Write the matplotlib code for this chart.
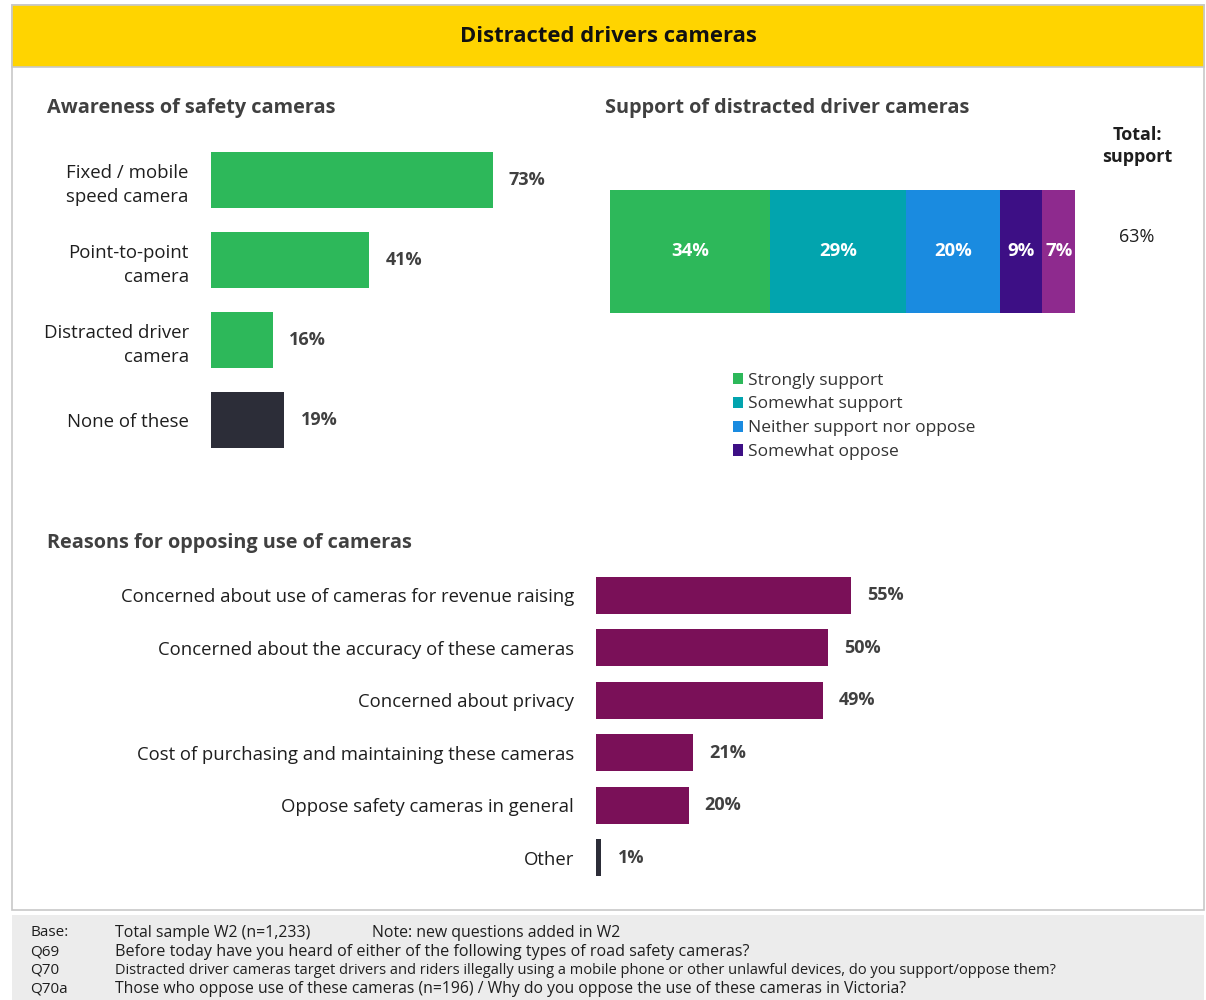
import matplotlib
matplotlib.use("Agg")
import matplotlib.pyplot as plt
from matplotlib.patches import Rectangle

plt.rcParams['font.family'] = ['Open Sans', 'DejaVu Sans']

W, H = 1206, 1000

# --- data ---
aware_labels = ["Fixed / mobile\nspeed camera", "Point-to-point\ncamera",
                "Distracted driver\ncamera", "None of these"]
aware_values = [73, 41, 16, 19]
aware_colors = ["#2db85a", "#2db85a", "#2db85a", "#2c2d38"]

support_labels = ["Strongly support", "Somewhat support", "Neither support nor oppose",
                  "Somewhat oppose", "Strongly oppose"]
support_values = [34, 29, 20, 9, 7]
support_colors = ["#2db85a", "#02a4ae", "#1a8be0", "#3d0f85", "#8e2a8e"]
support_total = 63

reason_labels = ["Concerned about use of cameras for revenue raising",
                 "Concerned about the accuracy of these cameras",
                 "Concerned about privacy",
                 "Cost of purchasing and maintaining these cameras",
                 "Oppose safety cameras in general",
                 "Other"]
reason_values = [55, 50, 49, 21, 20, 1]
reason_colors = ["#7a1058"] * 5 + ["#2c2d38"]

footer_rows = [
    ("Base:", "Total sample W2 (n=1,233)", 11.4),
    ("Q69", "Before today have you heard of either of the following types of road safety cameras?", 11.6),
    ("Q70", "Distracted driver cameras target drivers and riders illegally using a mobile phone or other unlawful devices, do you support/oppose them?", 10.5),
    ("Q70a", "Those who oppose use of these cameras (n=196) / Why do you oppose the use of these cameras in Victoria?", 11.3),
]

TXT = "#1e1e1e"
GREY = "#404040"


def rect(x0, y0, x1, y1):
    """pixel box (top-left origin) -> figure fraction [l, b, w, h]"""
    return [x0 / W, 1 - y1 / H, (x1 - x0) / W, (y1 - y0) / H]


def ftext(x, y, s, **kw):
    return fig.text(x / W, 1 - y / H, s, **kw)


def clean(ax):
    for sp in ax.spines.values():
        sp.set_visible(False)
    ax.tick_params(length=0)
    ax.set_facecolor("none")
    ax.set_zorder(2)


fig = plt.figure(figsize=(W / 100, H / 100), dpi=100)
fig.patch.set_facecolor("white")

# frame, header band and footer band (kept behind the axes)
fig.patches.append(Rectangle((12 / W, 1 - 910 / H), 1192 / W, 905 / H, transform=fig.transFigure,
                             facecolor="white", edgecolor="#c8c8c8", lw=1.2, zorder=-3))
fig.patches.append(Rectangle((12 / W, 1 - 67 / H), 1192 / W, 62 / H, transform=fig.transFigure,
                             facecolor="#ffd400", edgecolor="#c8c8c8", lw=1.2, zorder=-2))
fig.patches.append(Rectangle((12 / W, 0), 1192 / W, 85 / H, transform=fig.transFigure,
                             facecolor="#ececec", edgecolor="none", zorder=-3))

ftext(608, 37, "Distracted drivers cameras", ha="center", va="center",
      fontsize=15.8, fontweight="bold", color="#111111")

# --- awareness ---
ftext(47, 108, "Awareness of safety cameras", ha="left", va="center",
      fontsize=14.3, fontweight="bold", color=GREY)
ax1 = fig.add_axes(rect(211, 140, 597, 460))
ypos = list(range(len(aware_values)))
ax1.barh(ypos, aware_values, height=0.71, color=aware_colors)
ax1.set_xlim(0, 100)
ax1.set_ylim(3.5, -0.5)
ax1.set_xticks([])
ax1.set_yticks(ypos)
ax1.set_yticklabels(aware_labels, fontsize=13.4, color=TXT, linespacing=1.4)
ax1.tick_params(axis="y", pad=16)
clean(ax1)
for y, v in zip(ypos, aware_values):
    ax1.text(v + 4.2, y, f"{v}%", va="center", ha="left", fontsize=13,
             fontweight="bold", color=GREY)

# --- support stacked bar ---
ftext(605, 108, "Support of distracted driver cameras", ha="left", va="center",
      fontsize=14.3, fontweight="bold", color=GREY)
ax2 = fig.add_axes(rect(610, 190, 1080, 313))
left = 0
bars = []
for lab, v, c in zip(support_labels, support_values, support_colors):
    b = ax2.barh(0, v, left=left, height=1.0, color=c, label=lab)
    bars.append(b)
    ax2.text(left + v / 2, 0, f"{v}%", ha="center", va="center", fontsize=13.3,
             fontweight="bold", color="white")
    left += v
ax2.set_xlim(0, 100)
ax2.set_ylim(-0.5, 0.5)
ax2.set_xticks([])
ax2.set_yticks([])
clean(ax2)

ftext(1137, 146, "Total:\nsupport", ha="center", va="center", fontsize=13,
      fontweight="bold", color=TXT, linespacing=1.35)
ftext(1137, 237, f"{support_total}%", ha="center", va="center", fontsize=13, color=TXT)

fig.legend(handles=bars[:4], labels=support_labels[:4],
           loc="upper left", bbox_to_anchor=(724 / W, 1 - 364 / H),
           frameon=False, fontsize=12.5, handlelength=0.6, handleheight=0.6,
           handletextpad=0.3, labelspacing=0.45, borderpad=0, labelcolor="#333333")

# --- reasons ---
ftext(47, 543, "Reasons for opposing use of cameras", ha="left", va="center",
      fontsize=14.3, fontweight="bold", color=GREY)
ax3 = fig.add_axes(rect(596, 569, 1060, 884))
rpos = list(range(len(reason_values)))
ax3.barh(rpos, reason_values, height=0.70, color=reason_colors)
ax3.set_xlim(0, 100)
ax3.set_ylim(5.5, -0.5)
ax3.set_xticks([])
ax3.set_yticks(rpos)
ax3.set_yticklabels(reason_labels, fontsize=13.3, color=TXT)
ax3.tick_params(axis="y", pad=16)
clean(ax3)
for y, v in zip(rpos, reason_values):
    ax3.text(max(v, 1.4) + 3.4, y, f"{v}%", va="center", ha="left", fontsize=13,
             fontweight="bold", color=GREY)

# --- footer notes ---
for i, (k, s, fs) in enumerate(footer_rows):
    yy = 933 + i * 18.7
    ftext(30, yy, k, ha="left", va="center", fontsize=11, color=TXT)
    ftext(115, yy, s, ha="left", va="center", fontsize=fs, color=TXT)
ftext(372, 933, "Note: new questions added in W2", ha="left", va="center",
      fontsize=11.4, color=TXT)

fig.savefig("out.png", dpi=100)
